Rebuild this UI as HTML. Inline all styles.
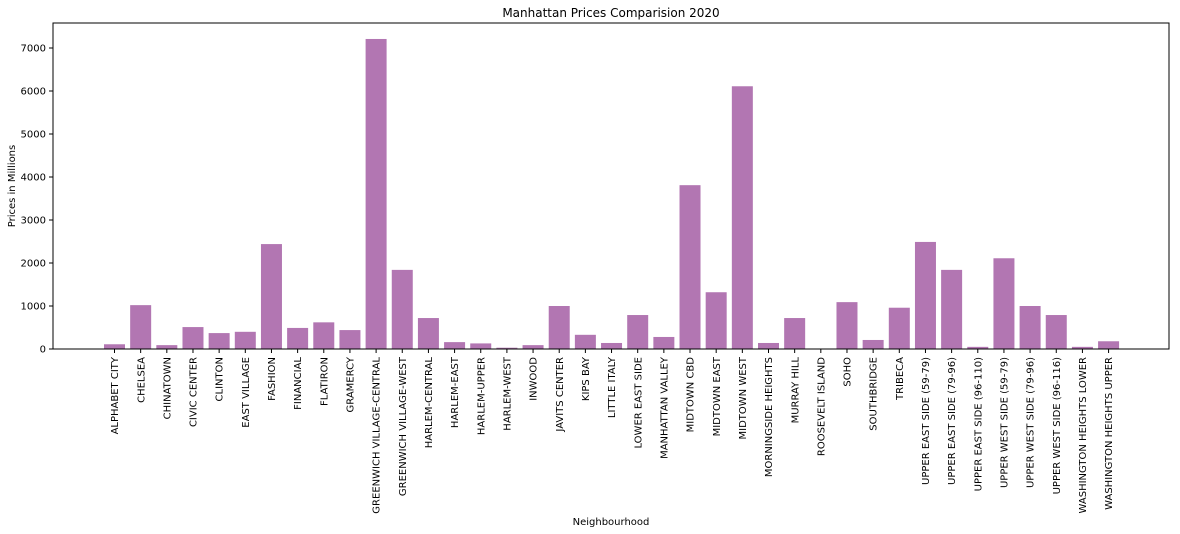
<!DOCTYPE html>
<html><head><meta charset="utf-8"><style>
html,body{margin:0;padding:0;background:#fff;}
svg{display:block;font-family:"DejaVu Sans","Liberation Sans",sans-serif;}
</style></head><body>
<svg id="chart" width="1180" height="534" xmlns="http://www.w3.org/2000/svg"></svg>
<script>
const categories=["ALPHABET CITY","CHELSEA","CHINATOWN","CIVIC CENTER","CLINTON","EAST VILLAGE","FASHION","FINANCIAL","FLATIRON","GRAMERCY","GREENWICH VILLAGE-CENTRAL","GREENWICH VILLAGE-WEST","HARLEM-CENTRAL","HARLEM-EAST","HARLEM-UPPER","HARLEM-WEST","INWOOD","JAVITS CENTER","KIPS BAY","LITTLE ITALY","LOWER EAST SIDE","MANHATTAN VALLEY","MIDTOWN CBD","MIDTOWN EAST","MIDTOWN WEST","MORNINGSIDE HEIGHTS","MURRAY HILL","ROOSEVELT ISLAND","SOHO","SOUTHBRIDGE","TRIBECA","UPPER EAST SIDE (59-79)","UPPER EAST SIDE (79-96)","UPPER EAST SIDE (96-110)","UPPER WEST SIDE (59-79)","UPPER WEST SIDE (79-96)","UPPER WEST SIDE (96-116)","WASHINGTON HEIGHTS LOWER","WASHINGTON HEIGHTS UPPER"];
const prices=[110,1020,90,510,370,400,2440,490,620,440,7210,1840,720,160,130,30,90,1000,330,140,790,280,3810,1320,6110,140,720,0,1090,210,960,2490,1840,50,2110,1000,790,50,180];
const yTicks=[0,1000,2000,3000,4000,5000,6000,7000];

const NS="http://www.w3.org/2000/svg";
const svg=document.getElementById('chart');
const L=53,R=1169,T=23,B=349;
const x=i=>114.5+i*26.16;
const y=v=>349-v*0.043;
function el(tag,attrs,parent){const e=document.createElementNS(NS,tag);for(const k in attrs)e.setAttribute(k,attrs[k]);(parent||svg).appendChild(e);return e;}

prices.forEach((v,i)=>{
  const r=el('rect',{x:x(i)-10.5,y:y(v),width:21,height:Math.max(0,y(0)-y(v)),fill:'#b276b2'});
  
  
});

const frame=el('rect',{x:L,y:T,width:R-L,height:B-T,fill:'none',stroke:'#000','stroke-width':1});



yTicks.forEach(t=>{
  el('line',{x1:L-4,x2:L,y1:y(t),y2:y(t),stroke:'#000'});
  const tx=el('text',{x:L-7,y:y(t)+3.5,'font-size':10,'text-anchor':'end'});
  tx.textContent=t;
  
  
});

categories.forEach((c,i)=>{
  el('line',{x1:x(i),x2:x(i),y1:B,y2:B+4,stroke:'#000'});
  const tx=el('text',{x:0,y:0,'font-size':10,'text-anchor':'end',transform:`translate(${x(i)+3.6},357) rotate(-90)`});
  tx.textContent=c;
  
  
});

const title=el('text',{x:611,y:17,'font-size':12,'text-anchor':'middle'});
title.textContent='Manhattan Prices Comparision 2020';



const yt=el('text',{x:0,y:0,'font-size':10,'text-anchor':'middle',transform:'translate(15,186) rotate(-90)'});
yt.textContent='Prices in Millions';



const xt=el('text',{x:611,y:525,'font-size':10,'text-anchor':'middle'});
xt.textContent='Neighbourhood';


</script>
</body></html>
